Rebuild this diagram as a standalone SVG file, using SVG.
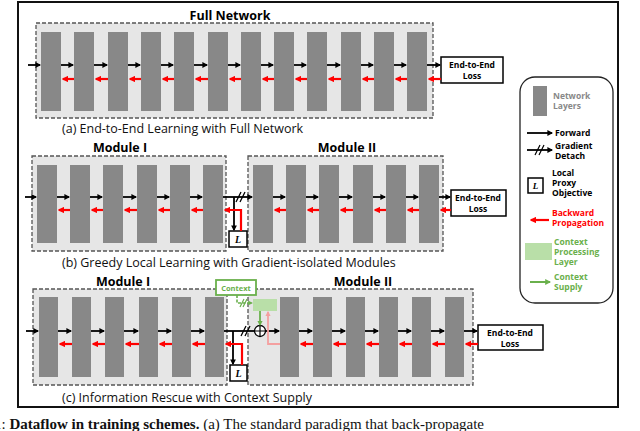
<svg xmlns="http://www.w3.org/2000/svg" width="640" height="431" viewBox="0 0 640 431">
<defs>
<marker id="ab" viewBox="0 0 10 10" refX="8" refY="5" markerWidth="3.2" markerHeight="3.2" orient="auto"><path d="M0,0L10,5L0,10z" fill="#000"/></marker>
<marker id="ar" viewBox="0 0 10 10" refX="8" refY="5" markerWidth="3" markerHeight="3" orient="auto"><path d="M0,0L10,5L0,10z" fill="#f00"/></marker>
<marker id="ap" viewBox="0 0 10 10" refX="8" refY="5" markerWidth="3" markerHeight="3" orient="auto"><path d="M0,0L10,5L0,10z" fill="#f4a0a0"/></marker>
<marker id="ag" viewBox="0 0 10 10" refX="8" refY="5" markerWidth="3" markerHeight="3" orient="auto"><path d="M0,0L10,5L0,10z" fill="#6ab04c"/></marker>
</defs>
<style>
.t{font-family:"Open Sans","Liberation Sans",sans-serif;}
.box{fill:#e6e6e6;stroke:#555;stroke-width:1.3;stroke-dasharray:4,2;}
.bar{fill:#888;}
.f{stroke:#000;stroke-width:1.8;fill:none;marker-end:url(#ab);}
.fl{stroke:#000;stroke-width:1.8;fill:none;}
.r{stroke:#f00;stroke-width:2.2;fill:none;marker-end:url(#ar);}
.loss{fill:#fff;stroke:#000;stroke-width:1.5;}
.cap{font-size:12.5px;fill:#111;}
.ttl{font-size:12.5px;font-weight:bold;}
.lt{font-size:8.5px;font-weight:bold;}
.lg{font-size:8.5px;font-weight:bold;}
</style>
<rect x="18" y="2" width="600" height="405" fill="#fff" stroke="#111" stroke-width="2"/>

<g id="sectionA">
<text class="t ttl" x="230" y="20" text-anchor="middle">Full Network</text>
<rect class="box" x="36" y="23" width="397" height="95"/>
<g class="bar">
<rect x="41" y="32" width="20" height="79"/><rect x="74" y="32" width="20" height="79"/><rect x="108" y="32" width="20" height="79"/><rect x="141" y="32" width="20" height="79"/><rect x="174" y="32" width="20" height="79"/><rect x="208" y="32" width="20" height="79"/><rect x="241" y="32" width="20" height="79"/><rect x="274" y="32" width="20" height="79"/><rect x="307" y="32" width="20" height="79"/><rect x="341" y="32" width="20" height="79"/><rect x="374" y="32" width="20" height="79"/><rect x="407" y="32" width="20" height="79"/>
</g>
<g id="lossA"><rect class="loss" x="441" y="57" width="62" height="26"/><text class="t lt" x="472" y="68" text-anchor="middle">End-to-End</text><text class="t lt" x="472" y="79" text-anchor="middle">Loss</text></g>
<text class="t cap" x="62" y="133">(a) End-to-End Learning with Full Network</text>
</g>

<g id="connectorsA">
<path class="f" d="M28,65H40"/><path class="f" d="M61,65H73"/><path class="f" d="M94,65H107"/><path class="f" d="M128,65H140"/><path class="f" d="M161,65H173"/><path class="f" d="M194,65H207"/><path class="f" d="M228,65H240"/><path class="f" d="M261,65H273"/><path class="f" d="M294,65H306"/><path class="f" d="M327,65H340"/><path class="f" d="M361,65H373"/><path class="f" d="M394,65H406"/><path class="f" d="M427,65H440"/>
<path class="r" d="M74,79H63"/><path class="r" d="M108,79H96"/><path class="r" d="M141,79H130"/><path class="r" d="M174,79H163"/><path class="r" d="M208,79H196"/><path class="r" d="M241,79H230"/><path class="r" d="M274,79H263"/><path class="r" d="M307,79H296"/><path class="r" d="M341,79H329"/><path class="r" d="M374,79H363"/><path class="r" d="M407,79H396"/><path class="r" d="M441,79H429"/>
</g>

<g id="sectionB">
<text class="t ttl" x="120" y="152" text-anchor="middle">Module I</text>
<text class="t ttl" x="347" y="152" text-anchor="middle">Module II</text>
<rect class="box" x="32" y="156" width="194" height="95"/>
<rect class="box" x="248" y="156" width="195" height="95"/>
<g class="bar">
<rect x="37" y="165" width="20" height="78"/><rect x="70" y="165" width="20" height="78"/><rect x="103" y="165" width="20" height="78"/><rect x="137" y="165" width="20" height="78"/><rect x="170" y="165" width="20" height="78"/><rect x="203" y="165" width="20" height="78"/>
<rect x="253" y="165" width="20" height="78"/><rect x="286" y="165" width="20" height="78"/><rect x="319" y="165" width="20" height="78"/><rect x="353" y="165" width="20" height="78"/><rect x="386" y="165" width="20" height="78"/><rect x="419" y="165" width="20" height="78"/>
</g>
<g id="LB"><rect class="loss" x="229" y="231" width="18" height="16"/><text x="238" y="243" text-anchor="middle" font-family="Liberation Serif,serif" font-style="italic" font-weight="bold" font-size="10">L</text></g>
<g id="lossB"><rect class="loss" x="451" y="190" width="55" height="26"/><text class="t lt" x="478" y="201" text-anchor="middle">End-to-End</text><text class="t lt" x="478" y="212" text-anchor="middle">Loss</text></g>
<text class="t cap" x="62" y="267">(b) Greedy Local Learning with Gradient-isolated Modules</text>
</g>

<g id="connectorsB">
<path class="f" d="M25,197H36"/><path class="f" d="M57,197H69"/><path class="f" d="M90,197H102"/><path class="f" d="M123,197H136"/><path class="f" d="M157,197H169"/><path class="f" d="M190,197H202"/><path class="f" d="M223,197H252"/><path class="f" d="M273,197H285"/><path class="f" d="M306,197H318"/><path class="f" d="M339,197H352"/><path class="f" d="M373,197H385"/><path class="f" d="M406,197H418"/><path class="f" d="M439,197H450"/>
<path class="f" d="M234,197V230"/>
<path d="M236,202L241,192M240,202L245,192" stroke="#000" stroke-width="1.3"/>
<path class="r" d="M70,210H59"/><path class="r" d="M103,210H92"/><path class="r" d="M137,210H125"/><path class="r" d="M170,210H159"/><path class="r" d="M203,210H192"/><path class="r" d="M286,210H275"/><path class="r" d="M319,210H308"/><path class="r" d="M353,210H341"/><path class="r" d="M386,210H375"/><path class="r" d="M419,210H408"/><path class="r" d="M451,210H441"/>
<path class="r" d="M241,231V210H225"/>
</g>

<g id="sectionC">
<text class="t ttl" x="123" y="286" text-anchor="middle">Module I</text>
<text class="t ttl" x="363" y="286" text-anchor="middle">Module II</text>
<rect class="box" x="33" y="289" width="194" height="96"/>
<rect class="box" x="248" y="289" width="225" height="96"/>
<g class="bar">
<rect x="39" y="297" width="19" height="80"/><rect x="72" y="297" width="19" height="80"/><rect x="105" y="297" width="19" height="80"/><rect x="139" y="297" width="19" height="80"/><rect x="172" y="297" width="19" height="80"/><rect x="205" y="297" width="19" height="80"/>
<rect x="280" y="297" width="19" height="80"/><rect x="313" y="297" width="19" height="80"/><rect x="346" y="297" width="19" height="80"/><rect x="379" y="297" width="19" height="80"/><rect x="412" y="297" width="19" height="80"/><rect x="445" y="297" width="19" height="80"/>
</g>
<g id="ctx"><rect x="216" y="280" width="40" height="15" fill="#fff" stroke="#6ab04c" stroke-width="1.8"/><text class="t" x="236" y="291" text-anchor="middle" font-size="7.5" font-weight="bold" fill="#6ab04c">Context</text></g>
<rect id="ctxLayer" x="253" y="299" width="24" height="12" fill="#b9dfa8"/>
<g id="plus"><circle cx="260" cy="331" r="5.5" fill="#fff" stroke="#000" stroke-width="1.3"/>
<path d="M254.5,331H265.5M260,325.5V336.5" stroke="#000" stroke-width="1.2"/></g>
<g id="LC"><rect class="loss" x="230" y="365" width="17" height="16"/><text x="238.5" y="377" text-anchor="middle" font-family="Liberation Serif,serif" font-style="italic" font-weight="bold" font-size="10">L</text></g>
<g id="lossC"><rect class="loss" x="478" y="325" width="65" height="25"/><text class="t lt" x="510" y="336" text-anchor="middle">End-to-End</text><text class="t lt" x="510" y="347" text-anchor="middle">Loss</text></g>
<text class="t cap" x="62" y="402">(c) Information Rescue with Context Supply</text>
</g>

<g id="connectorsC">
<path class="f" d="M26,331H38"/><path class="f" d="M58,331H71"/><path class="f" d="M91,331H104"/><path class="f" d="M124,331H138"/><path class="f" d="M158,331H171"/><path class="f" d="M191,331H204"/><path class="f" d="M265.5,331H279"/><path class="f" d="M299,331H312"/><path class="f" d="M332,331H345"/><path class="f" d="M365,331H378"/><path class="f" d="M398,331H411"/><path class="f" d="M431,331H444"/><path class="f" d="M464,331H477"/>
<path class="fl" d="M224,331H254.5"/>
<path d="M241,336L246,326M245,336L250,326" stroke="#000" stroke-width="1.3"/>
<path class="f" d="M233,331V364"/>
<path class="r" d="M72,344H60"/><path class="r" d="M105,344H93"/><path class="r" d="M139,344H126"/><path class="r" d="M172,344H160"/><path class="r" d="M205,344H193"/><path class="r" d="M313,344H301"/><path class="r" d="M346,344H334"/><path class="r" d="M379,344H367"/><path class="r" d="M412,344H400"/><path class="r" d="M445,344H433"/><path class="r" d="M478,344H466"/>
<path class="r" d="M242,365V344H226"/>
<path d="M280,344H268V312" stroke="#f4a0a0" stroke-width="1.8" fill="none" marker-end="url(#ap)"/>
<path d="M237,295V303H252" stroke="#6ab04c" stroke-width="1.6" fill="none" stroke-dasharray="3,1.5" marker-end="url(#ag)"/>
<path d="M240,307L244,299M243,307L247,299" stroke="#6ab04c" stroke-width="1.2"/>
<path d="M260,311V325" stroke="#6ab04c" stroke-width="1.8" fill="none" marker-end="url(#ag)"/>
</g>

<g id="legend">
<rect x="520" y="77" width="93" height="226" rx="15" fill="#fff" stroke="#222" stroke-width="1.3"/>
<rect x="533" y="86" width="14" height="30" fill="#888"/>
<text class="t lg" fill="#888"><tspan x="553" y="99">Network</tspan><tspan x="553" y="109">Layers</tspan></text>
<path class="f" d="M527,133H552"/>
<text class="t lg" x="555" y="136">Forward</text>
<path class="f" d="M527,150H552"/>
<path d="M535,155L540,145M539,155L544,145" stroke="#000" stroke-width="1.2"/>
<text class="t lg"><tspan x="555" y="149">Gradient</tspan><tspan x="555" y="159">Detach</tspan></text>
<rect class="loss" x="528" y="178" width="15" height="15"/>
<text x="535.5" y="189" text-anchor="middle" font-family="Liberation Serif,serif" font-style="italic" font-weight="bold" font-size="9">L</text>
<text class="t lg"><tspan x="552" y="176">Local</tspan><tspan x="552" y="186">Proxy</tspan><tspan x="552" y="196">Objective</tspan></text>
<path class="r" d="M549,220H531"/>
<text class="t lg" fill="#f00"><tspan x="552" y="216">Backward</tspan><tspan x="552" y="226">Propagation</tspan></text>
<rect x="525" y="243" width="27" height="17" fill="#b9dfa8"/>
<text class="t lg" fill="#6ab04c"><tspan x="554" y="245">Context</tspan><tspan x="554" y="255">Processing</tspan><tspan x="554" y="265">Layer</tspan></text>
<path d="M530,282H550" stroke="#6ab04c" stroke-width="2" marker-end="url(#ag)"/>
<text class="t lg" fill="#6ab04c"><tspan x="554" y="280">Context</tspan><tspan x="554" y="290">Supply</tspan></text>
</g>

<text x="-6" y="429" font-family="Liberation Serif,serif" font-size="15" fill="#111">1: <tspan font-weight="bold">Dataflow in training schemes.</tspan> (a) The standard paradigm that back-propagate</text>
</svg>
